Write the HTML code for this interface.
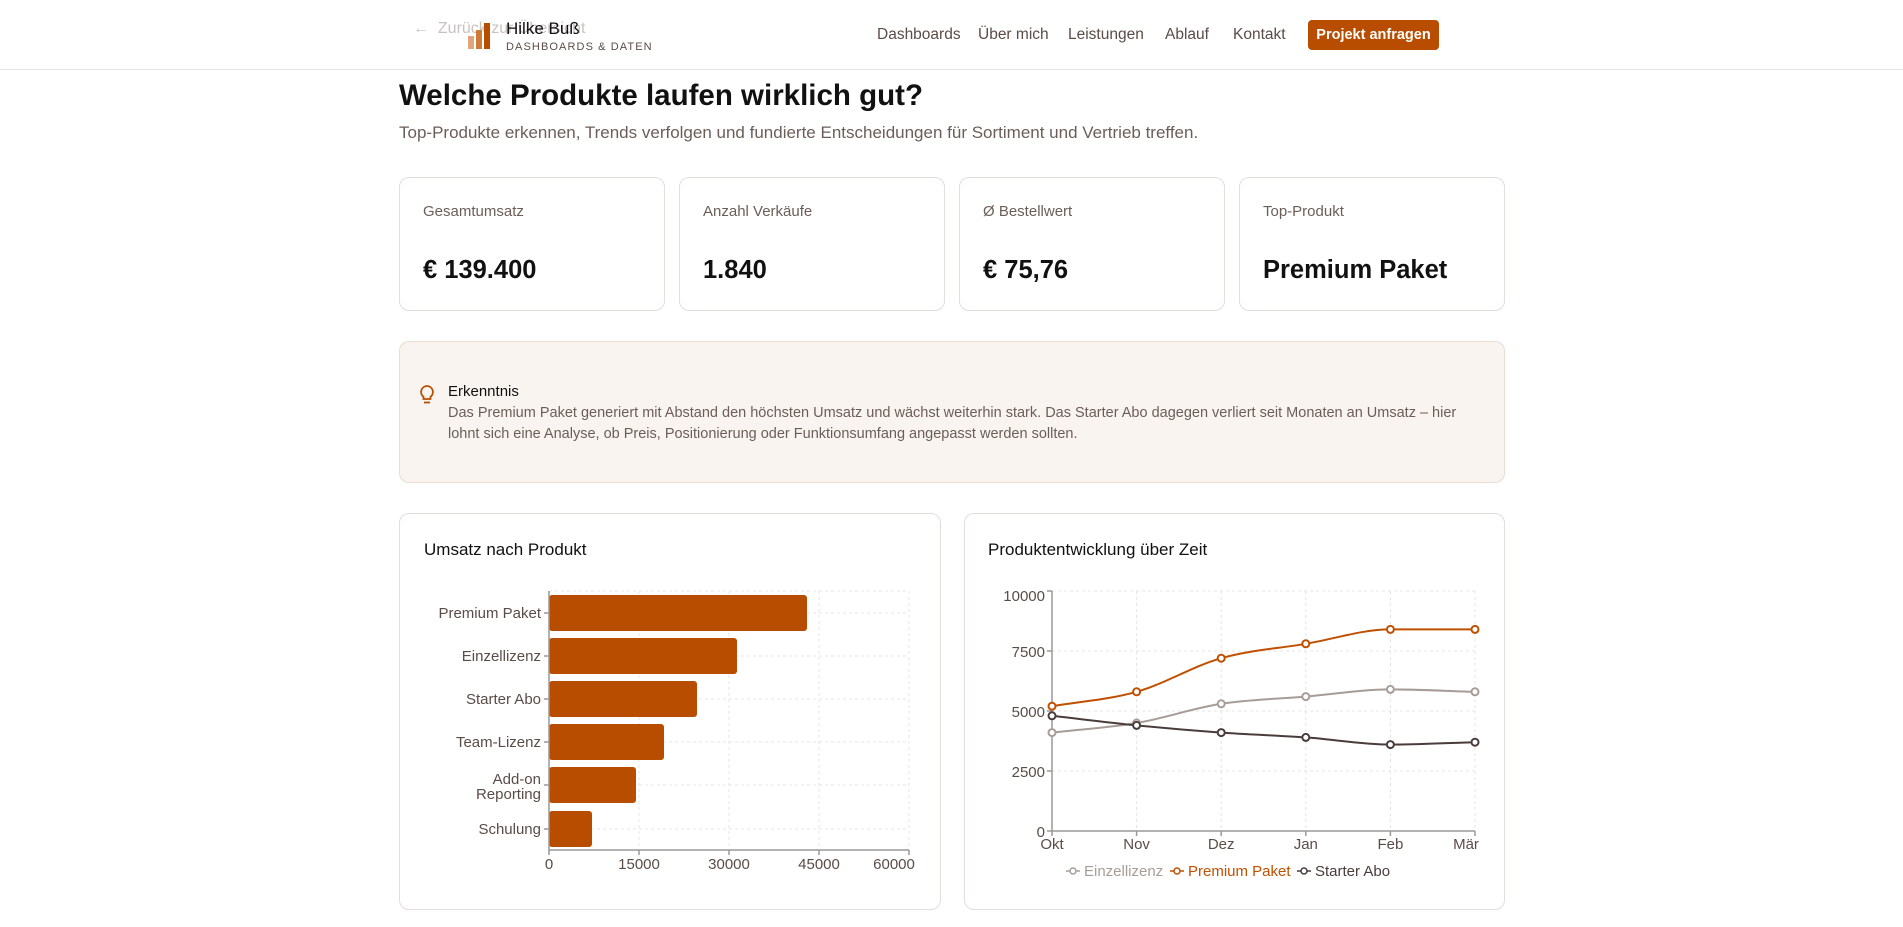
<!DOCTYPE html>
<html><head><meta charset="utf-8"><style>
*{margin:0;padding:0;box-sizing:border-box}
body{width:1903px;height:927px;overflow:hidden;background:#fff;font-family:"Liberation Sans",sans-serif;position:relative;color:#111}
.a{position:absolute;white-space:nowrap}
.nav{font-size:15.5px;color:#5a4c47;top:26px}
.card{position:absolute;border:1px solid #e2dedc;border-radius:10px;background:#fff}
.lbl{font-size:15px;color:#6b5e58}
.val{font-size:25.5px;font-weight:bold;color:#111}
</style></head><body>
<div class="a" style="left:0;top:69px;width:1903px;height:1px;background:#e3e3e3"></div>
<div class="a" style="left:413px;top:20px;font-size:16px;color:#c8c3c0">←&nbsp;&nbsp;Zurück zur Übersicht</div>
<svg class="a" style="left:466px;top:20px" width="28" height="30"><rect x="2" y="16" width="6" height="13" fill="#e0a57a"/><rect x="10" y="10" width="6" height="19" fill="#d07a3a"/><rect x="18" y="3" width="6" height="26" fill="#b84d00"/></svg>
<div class="a" style="left:506px;top:19px;font-size:17px;color:#111">Hilke Buß</div>
<div class="a" style="left:506px;top:41px;font-size:11px;letter-spacing:1.1px;color:#5a4c47">DASHBOARDS &amp; DATEN</div>
<div class="a nav" style="left:877px">Dashboards</div>
<div class="a nav" style="left:978px">Über mich</div>
<div class="a nav" style="left:1068px">Leistungen</div>
<div class="a nav" style="left:1165px">Ablauf</div>
<div class="a nav" style="left:1233px">Kontakt</div>
<div class="a" style="left:1308px;top:20px;width:131px;height:30px;background:#b84d00;border-radius:4px;color:#fff;font-size:14.5px;font-weight:bold;text-align:center;line-height:30px">Projekt anfragen</div>

<div class="a" style="left:399px;top:79px;font-size:29.5px;font-weight:bold">Welche Produkte laufen wirklich gut?</div>
<div class="a" style="left:399px;top:123px;font-size:17px;color:#6b5e58">Top-Produkte erkennen, Trends verfolgen und fundierte Entscheidungen für Sortiment und Vertrieb treffen.</div>

<div class="card" style="left:399px;top:177px;width:266px;height:134px"><div class="a lbl" style="left:23px;top:25px">Gesamtumsatz</div><div class="a val" style="left:23px;top:78px">€ 139.400</div></div>
<div class="card" style="left:679px;top:177px;width:266px;height:134px"><div class="a lbl" style="left:23px;top:25px">Anzahl Verkäufe</div><div class="a val" style="left:23px;top:78px">1.840</div></div>
<div class="card" style="left:959px;top:177px;width:266px;height:134px"><div class="a lbl" style="left:23px;top:25px">Ø Bestellwert</div><div class="a val" style="left:23px;top:78px">€ 75,76</div></div>
<div class="card" style="left:1239px;top:177px;width:266px;height:134px"><div class="a lbl" style="left:23px;top:25px">Top-Produkt</div><div class="a val" style="left:23px;top:78px">Premium Paket</div></div>

<div class="card" style="left:399px;top:341px;width:1106px;height:142px;background:#f9f4f0;border-color:#ecdcd2"></div>
<svg class="a" style="left:418px;top:384px" width="18" height="22"><path d="M9 2a6 6 0 0 0-3.5 10.8V15h7v-2.2A6 6 0 0 0 9 2z" fill="none" stroke="#b84d00" stroke-width="1.8"/><line x1="6" y1="18.5" x2="12" y2="18.5" stroke="#b84d00" stroke-width="1.8"/></svg>
<div class="a" style="left:448px;top:383px;font-size:15px;color:#111">Erkenntnis</div>
<div class="a" style="left:448px;top:403px;font-size:14.5px;color:#6b5e58;line-height:20.5px">Das Premium Paket generiert mit Abstand den höchsten Umsatz und wächst weiterhin stark. Das Starter Abo dagegen verliert seit Monaten an Umsatz – hier<br>lohnt sich eine Analyse, ob Preis, Positionierung oder Funktionsumfang angepasst werden sollten.</div>

<div class="card" style="left:399px;top:513px;width:542px;height:397px"></div>
<div class="card" style="left:964px;top:513px;width:541px;height:397px"></div>
<div class="a" style="left:424px;top:540px;font-size:17px">Umsatz nach Produkt</div>
<div class="a" style="left:988px;top:540px;font-size:17px">Produktentwicklung über Zeit</div>

<svg class="a" style="left:0;top:0" width="1903" height="927" font-family="Liberation Sans, sans-serif">
<g stroke="#e4e4e4" stroke-dasharray="3,3" fill="none">
<line x1="639" y1="591" x2="639" y2="850"/><line x1="729" y1="591" x2="729" y2="850"/><line x1="819" y1="591" x2="819" y2="850"/><line x1="909" y1="591" x2="909" y2="850"/>
<line x1="549" y1="591" x2="909" y2="591"/>
<line x1="549" y1="613" x2="909" y2="613"/><line x1="549" y1="656" x2="909" y2="656"/><line x1="549" y1="699" x2="909" y2="699"/><line x1="549" y1="742" x2="909" y2="742"/><line x1="549" y1="785" x2="909" y2="785"/><line x1="549" y1="829" x2="909" y2="829"/>
<line x1="1052" y1="591" x2="1475" y2="591"/><line x1="1052" y1="651" x2="1475" y2="651"/><line x1="1052" y1="711" x2="1475" y2="711"/><line x1="1052" y1="771" x2="1475" y2="771"/>
<line x1="1136.6" y1="591" x2="1136.6" y2="831"/><line x1="1221.2" y1="591" x2="1221.2" y2="831"/><line x1="1305.8" y1="591" x2="1305.8" y2="831"/><line x1="1390.4" y1="591" x2="1390.4" y2="831"/><line x1="1475" y1="591" x2="1475" y2="831"/>
</g>
<g fill="#b84d00">
<rect x="549" y="595" width="258" height="36" rx="3"/>
<rect x="549" y="638" width="188" height="36" rx="3"/>
<rect x="549" y="681" width="148" height="36" rx="3"/>
<rect x="549" y="724" width="115" height="36" rx="3"/>
<rect x="549" y="767" width="87" height="36" rx="3"/>
<rect x="549" y="811" width="43" height="36" rx="3"/>
</g>
<g stroke="#999" stroke-width="1.5"><line x1="549" y1="591" x2="549" y2="851"/><line x1="549" y1="850" x2="909" y2="850"/>
<line x1="544" y1="613" x2="549" y2="613"/><line x1="544" y1="656" x2="549" y2="656"/><line x1="544" y1="699" x2="549" y2="699"/><line x1="544" y1="742" x2="549" y2="742"/><line x1="544" y1="785" x2="549" y2="785"/><line x1="544" y1="829" x2="549" y2="829"/>
<line x1="549" y1="850" x2="549" y2="855"/><line x1="639" y1="850" x2="639" y2="855"/><line x1="729" y1="850" x2="729" y2="855"/><line x1="819" y1="850" x2="819" y2="855"/><line x1="909" y1="850" x2="909" y2="855"/>
<line x1="1052" y1="591" x2="1052" y2="831"/><line x1="1052" y1="831" x2="1475" y2="831"/>
<line x1="1047" y1="591" x2="1052" y2="591"/><line x1="1047" y1="651" x2="1052" y2="651"/><line x1="1047" y1="711" x2="1052" y2="711"/><line x1="1047" y1="771" x2="1052" y2="771"/><line x1="1047" y1="831" x2="1052" y2="831"/>
<line x1="1052" y1="831" x2="1052" y2="836"/><line x1="1136.6" y1="831" x2="1136.6" y2="836"/><line x1="1221.2" y1="831" x2="1221.2" y2="836"/><line x1="1305.8" y1="831" x2="1305.8" y2="836"/><line x1="1390.4" y1="831" x2="1390.4" y2="836"/><line x1="1475" y1="831" x2="1475" y2="836"/>
</g>
<g font-size="15" fill="#5a4c47" text-anchor="end">
<text x="541" y="618">Premium Paket</text><text x="541" y="661">Einzellizenz</text><text x="541" y="704">Starter Abo</text><text x="541" y="747">Team-Lizenz</text><text x="541" y="784">Add-on</text><text x="541" y="799">Reporting</text><text x="541" y="834">Schulung</text>
<text x="1045" y="601">10000</text><text x="1045" y="657">7500</text><text x="1045" y="717">5000</text><text x="1045" y="777">2500</text><text x="1045" y="837">0</text>
</g>
<g font-size="15" fill="#5a4c47" text-anchor="middle">
<text x="549" y="869">0</text><text x="639" y="869">15000</text><text x="729" y="869">30000</text><text x="819" y="869">45000</text><text x="894" y="869">60000</text>
<text x="1052" y="849">Okt</text><text x="1136.6" y="849">Nov</text><text x="1221.2" y="849">Dez</text><text x="1305.8" y="849">Jan</text><text x="1390.4" y="849">Feb</text><text x="1466" y="849">Mär</text>
</g>
<g fill="none" stroke-width="2">
<path stroke="#a89c98" d="M1052,732.6 C1080.2,729.4 1108.4,727.8 1136.6,723 C1164.8,718.2 1193,708.2 1221.2,703.8 C1249.4,699.4 1277.6,699 1305.8,696.6 C1334,694.2 1362.2,689.4 1390.4,689.4 C1418.6,689.4 1446.8,691 1475,691.8"/>
<path stroke="#c05000" d="M1052,706.2 C1080.2,701.4 1108.4,699.8 1136.6,691.8 C1164.8,683.8 1193,666.2 1221.2,658.2 C1249.4,650.2 1277.6,648.6 1305.8,643.8 C1334,639 1362.2,629.4 1390.4,629.4 C1418.6,629.4 1446.8,629.4 1475,629.4"/>
<path stroke="#4a3c3a" d="M1052,715.8 C1080.2,719 1108.4,722.6 1136.6,725.4 C1164.8,728.2 1193,730.6 1221.2,732.6 C1249.4,734.6 1277.6,735.4 1305.8,737.4 C1334,739.4 1362.2,744.6 1390.4,744.6 C1418.6,744.6 1446.8,743 1475,742.2"/>
</g>
<g fill="#fff" stroke-width="2">
<g stroke="#a89c98"><circle cx="1052" cy="732.6" r="3.5"/><circle cx="1136.6" cy="723" r="3.5"/><circle cx="1221.2" cy="703.8" r="3.5"/><circle cx="1305.8" cy="696.6" r="3.5"/><circle cx="1390.4" cy="689.4" r="3.5"/><circle cx="1475" cy="691.8" r="3.5"/></g>
<g stroke="#c05000"><circle cx="1052" cy="706.2" r="3.5"/><circle cx="1136.6" cy="691.8" r="3.5"/><circle cx="1221.2" cy="658.2" r="3.5"/><circle cx="1305.8" cy="643.8" r="3.5"/><circle cx="1390.4" cy="629.4" r="3.5"/><circle cx="1475" cy="629.4" r="3.5"/></g>
<g stroke="#4a3c3a"><circle cx="1052" cy="715.8" r="3.5"/><circle cx="1136.6" cy="725.4" r="3.5"/><circle cx="1221.2" cy="732.6" r="3.5"/><circle cx="1305.8" cy="737.4" r="3.5"/><circle cx="1390.4" cy="744.6" r="3.5"/><circle cx="1475" cy="742.2" r="3.5"/></g>
</g>
<g font-size="15" stroke-width="1.5">
<line x1="1066" y1="871" x2="1080" y2="871" stroke="#a89c98"/><circle cx="1073" cy="871" r="3" fill="#fff" stroke="#a89c98"/><text x="1084" y="876" fill="#a89c98">Einzellizenz</text>
<line x1="1170" y1="871" x2="1184" y2="871" stroke="#c05000"/><circle cx="1177" cy="871" r="3" fill="#fff" stroke="#c05000"/><text x="1188" y="876" fill="#c05000">Premium Paket</text>
<line x1="1297" y1="871" x2="1311" y2="871" stroke="#4a3c3a"/><circle cx="1304" cy="871" r="3" fill="#fff" stroke="#4a3c3a"/><text x="1315" y="876" fill="#4a3c3a">Starter Abo</text>
</g>
</svg>
</body></html>
